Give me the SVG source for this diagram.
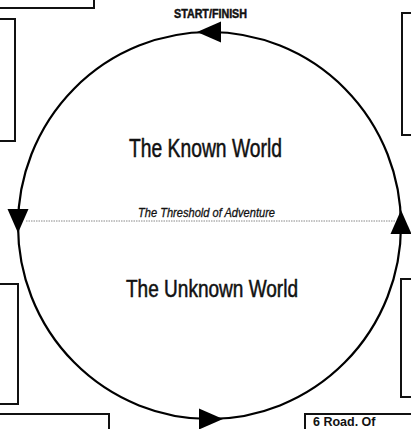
<svg xmlns="http://www.w3.org/2000/svg" width="411" height="429" viewBox="0 0 411 429">
<style>
.box{fill:#fff;stroke:#111;stroke-width:2}
.t{font-family:"Liberation Sans",Arial,sans-serif;fill:#111;text-anchor:middle}
.heavy{stroke:#111;stroke-width:0.5}
.arr{fill:#000}
</style>
<defs>
<polygon id="tri" points="0,0 -24,-10.5 -24,10.5"/>
</defs>
<rect width="411" height="429" fill="#fff"/>
<g id="box-top-left"><rect class="box" x="-3" y="-3" width="97" height="11"/></g>
<g id="box-left-upper"><rect class="box" x="-3" y="19" width="18" height="122"/></g>
<g id="box-left-lower"><rect class="box" x="-3" y="284" width="21" height="120"/></g>
<g id="box-bottom-left"><rect class="box" x="-3" y="414" width="112" height="20"/></g>
<g id="box-right-upper"><rect class="box" x="402" y="13" width="12" height="122"/></g>
<g id="box-right-lower"><rect class="box" x="401" y="279" width="13" height="118"/></g>
<g id="box-bottom-right"><rect class="box" x="305" y="414" width="109" height="20"/>
<text class="t" x="313" y="425.5" font-size="12.5" font-weight="bold" style="text-anchor:start">6 Road. Of</text></g>
<g id="connectors">
<ellipse cx="209.5" cy="225.5" rx="191.5" ry="193.5" fill="none" stroke="#000" stroke-width="2.2"/>
<line x1="26" y1="221" x2="396" y2="221" stroke="#888" stroke-width="1" stroke-dasharray="1.5,1"/>
<use href="#tri" class="arr" transform="translate(197,32) rotate(180)"/>
<use href="#tri" class="arr" transform="translate(18,233) rotate(90)"/>
<use href="#tri" class="arr" transform="translate(401,210) rotate(-90)"/>
<use href="#tri" class="arr" transform="translate(223,419)"/>
</g>
<g id="labels">
<text class="t heavy" x="210.5" y="18" font-size="12.5" font-weight="bold" textLength="73" lengthAdjust="spacingAndGlyphs">START/FINISH</text>
<text class="t heavy" x="205.5" y="157" font-size="25.5" textLength="153" lengthAdjust="spacingAndGlyphs">The Known World</text>
<text class="t" x="206.5" y="217" font-size="12.5" font-style="italic" stroke="#111" stroke-width="0.3" textLength="137" lengthAdjust="spacingAndGlyphs">The Threshold of Adventure</text>
<text class="t heavy" x="212" y="297" font-size="23" textLength="172" lengthAdjust="spacingAndGlyphs">The Unknown World</text>
</g>
</svg>
